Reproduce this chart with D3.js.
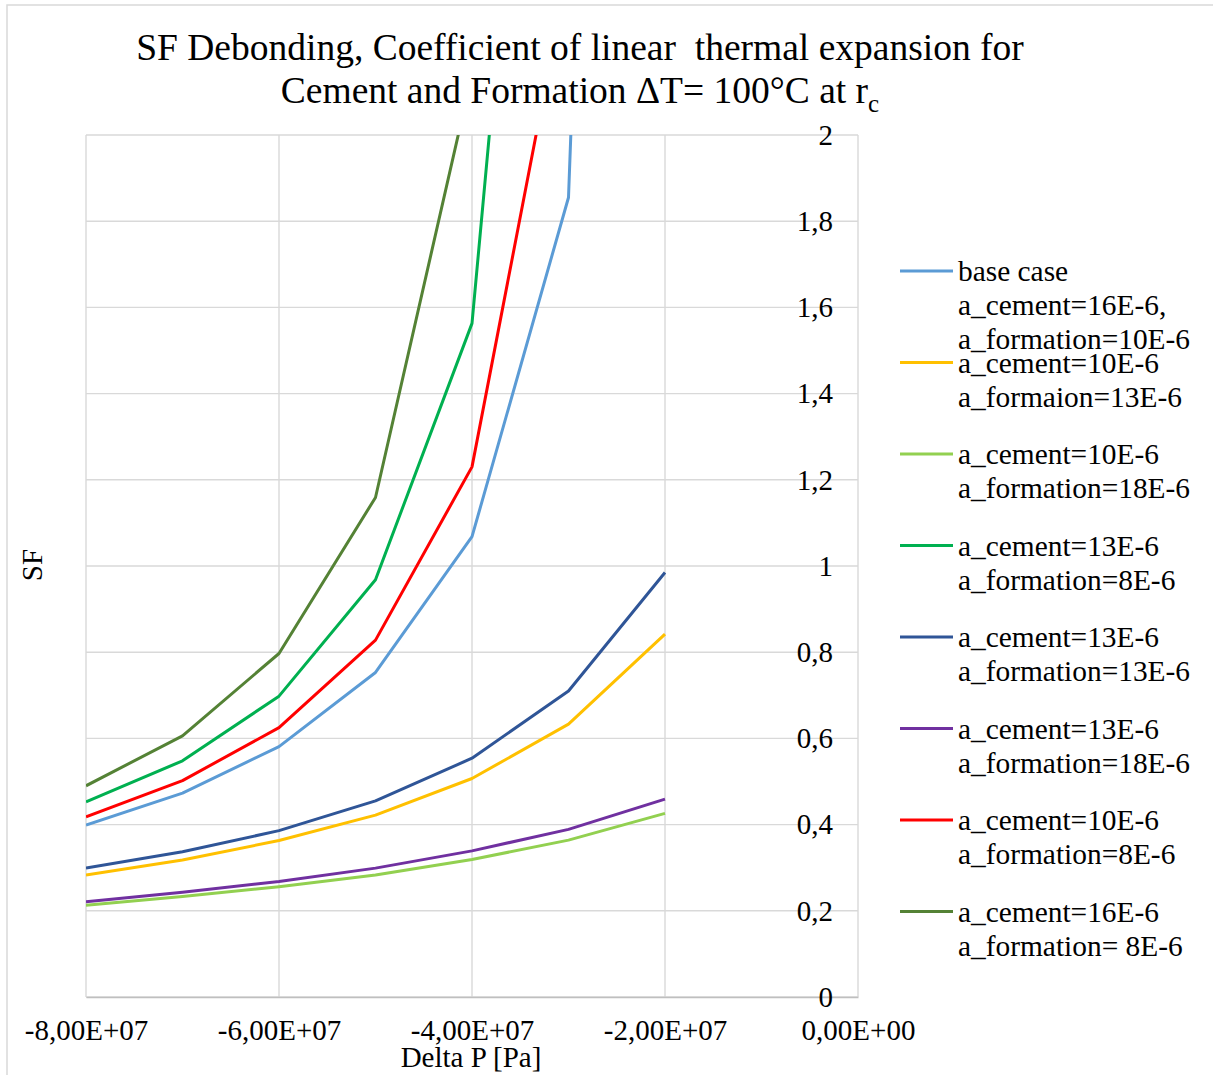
<!DOCTYPE html>
<html>
<head>
<meta charset="utf-8">
<script src="https://cdn.jsdelivr.net/npm/d3@7"></script>
<style>
  body { margin: 0; background: #fff; }
  svg text { font-family: "Liberation Serif", "Times New Roman", serif; fill: #000; }
</style>
</head>
<body>
<div id="chart"></div>
<script>
// x values (Delta P [Pa])
const deltaP = [-8e7, -7e7, -6e7, -5e7, -4e7, -3e7, -2e7];

// SF per case (values above 2 only give the direction of the clipped segment)
const baseCase      = [0.399, 0.473, 0.581, 0.753, 1.068, 1.855, 7.9];
const cem10form13   = [0.283, 0.318, 0.363, 0.422, 0.507, 0.633, 0.842];
const cem10form18   = [0.213, 0.233, 0.256, 0.283, 0.319, 0.364, 0.426];
const cem13form8    = [0.453, 0.548, 0.698, 0.968, 1.563, 4.0];
const cem13form13   = [0.299, 0.337, 0.386, 0.455, 0.554, 0.710, 0.985];
const cem13form18   = [0.221, 0.243, 0.268, 0.299, 0.339, 0.389, 0.459];
const cem10form8    = [0.418, 0.502, 0.625, 0.828, 1.230, 2.39];
const cem16form8    = [0.490, 0.606, 0.797, 1.159, 2.14];

const xTicks = [-8e7, -6e7, -4e7, -2e7, 0];
const yTicks = [0, 0.2, 0.4, 0.6, 0.8, 1, 1.2, 1.4, 1.6, 1.8, 2];

const series = [
    {name: ["base case", "a_cement=16E-6,", "a_formation=10E-6"], values: baseCase, color: "#5b9bd5"},
    {name: ["a_cement=10E-6", "a_formaion=13E-6"], values: cem10form13, color: "#ffc000"},
    {name: ["a_cement=10E-6", "a_formation=18E-6"], values: cem10form18, color: "#92d050"},
    {name: ["a_cement=13E-6", "a_formation=8E-6"], values: cem13form8, color: "#00b050"},
    {name: ["a_cement=13E-6", "a_formation=13E-6"], values: cem13form13, color: "#2f5597"},
    {name: ["a_cement=13E-6", "a_formation=18E-6"], values: cem13form18, color: "#7030a0"},
    {name: ["a_cement=10E-6", "a_formation=8E-6"], values: cem10form8, color: "#ff0000"},
    {name: ["a_cement=16E-6", "a_formation= 8E-6"], values: cem16form8, color: "#548235"}
];

const W = 1213, H = 1075;
const plot = {left: 86, right: 858, top: 135, bottom: 997};

const svg = d3.select("#chart").append("svg")
    .attr("width", W)
    .attr("height", H);

// outer chart frame
svg.append("rect")
    .attr("x", 7).attr("y", 5)
    .attr("width", W + 20).attr("height", H + 20)
    .attr("fill", "none")
    .attr("stroke", "#d9d9d9")
    .attr("stroke-width", 1.5);

const x = d3.scaleLinear().domain([-8e7, 0]).range([plot.left, plot.right]);
const y = d3.scaleLinear().domain([0, 2]).range([plot.bottom, plot.top]);

const sci = v => {
    if (v === 0) return "0,00E+00";
    const e = Math.floor(Math.log10(Math.abs(v)));
    const m = v / Math.pow(10, e);
    return m.toFixed(2).replace(".", ",") + "E+" + String(e).padStart(2, "0");
};
const dec = v => String(+v.toFixed(1)).replace(".", ",");

// gridlines
svg.append("g").selectAll("line")
    .data(yTicks)
    .join("line")
    .attr("x1", plot.left).attr("x2", plot.right)
    .attr("y1", d => y(d)).attr("y2", d => y(d))
    .attr("stroke", "#d9d9d9")
    .attr("stroke-width", 1.4);

svg.append("g").selectAll("line")
    .data(xTicks)
    .join("line")
    .attr("x1", d => x(d)).attr("x2", d => x(d))
    .attr("y1", plot.top).attr("y2", plot.bottom)
    .attr("stroke", "#d9d9d9")
    .attr("stroke-width", 1.4);

// x axis
const xAxis = svg.append("g")
    .attr("transform", `translate(0,${plot.bottom})`)
    .call(d3.axisBottom(x).tickValues(xTicks).tickFormat(sci).tickSize(0).tickPadding(22));
xAxis.select(".domain").attr("stroke", "#bfbfbf").attr("stroke-width", 1.4);
xAxis.selectAll("text")
    .style("font-family", '"Liberation Serif", "Times New Roman", serif')
    .attr("font-size", 29).attr("fill", "#000");

// y axis labels sit left of the x=0 line
const yAxis = svg.append("g")
    .attr("transform", `translate(${x(0)},0)`)
    .call(d3.axisLeft(y).tickValues(yTicks).tickFormat(dec).tickSize(0).tickPadding(25));
yAxis.select(".domain").remove();
yAxis.selectAll("text")
    .style("font-family", '"Liberation Serif", "Times New Roman", serif')
    .attr("font-size", 29).attr("fill", "#000");

// clip lines to the plot area
svg.append("clipPath").attr("id", "clip")
    .append("rect")
    .attr("x", plot.left).attr("y", plot.top)
    .attr("width", plot.right - plot.left).attr("height", plot.bottom - plot.top);

const line = d3.line()
    .x((d, i) => x(deltaP[i]))
    .y(d => y(d));

svg.append("g")
    .attr("clip-path", "url(#clip)")
    .selectAll("path")
    .data(series)
    .join("path")
    .attr("d", d => line(d.values))
    .attr("fill", "none")
    .attr("stroke", d => d.color)
    .attr("stroke-width", 3)
    .attr("stroke-linejoin", "round");

// title
const title = svg.append("text")
    .attr("x", 580)
    .attr("text-anchor", "middle")
    .attr("font-size", 37.5);
title.append("tspan").attr("x", 580).attr("y", 60)
    .text("SF Debonding, Coefficient of linear\u00a0 thermal expansion for");
const t2 = title.append("tspan").attr("x", 580).attr("y", 103);
t2.append("tspan").text("Cement and Formation \u0394T= 100\u00b0C at r");
t2.append("tspan").attr("dy", 9).attr("font-size", 25).text("c");

// axis titles
svg.append("text")
    .attr("x", 471).attr("y", 1067)
    .attr("text-anchor", "middle")
    .attr("font-size", 29)
    .text("Delta P [Pa]");

svg.append("text")
    .attr("transform", "translate(42,565) rotate(-90)")
    .attr("text-anchor", "middle")
    .attr("font-size", 29)
    .text("SF");

// legend
const legendTop = 271, legendStep = 91.5, lineGap = 34;
const legend = svg.append("g").selectAll("g")
    .data(series)
    .join("g")
    .attr("transform", (d, i) => `translate(900,${legendTop + i * legendStep})`);

legend.append("line")
    .attr("x1", 0).attr("x2", 53)
    .attr("stroke", d => d.color)
    .attr("stroke-width", 3);

legend.append("text")
    .attr("font-size", 29.4)
    .selectAll("tspan")
    .data(d => d.name)
    .join("tspan")
    .attr("x", 58)
    .attr("y", (d, i) => i * lineGap)
    .attr("dy", "0.35em")
    .text(d => d);
</script>
</body>
</html>
